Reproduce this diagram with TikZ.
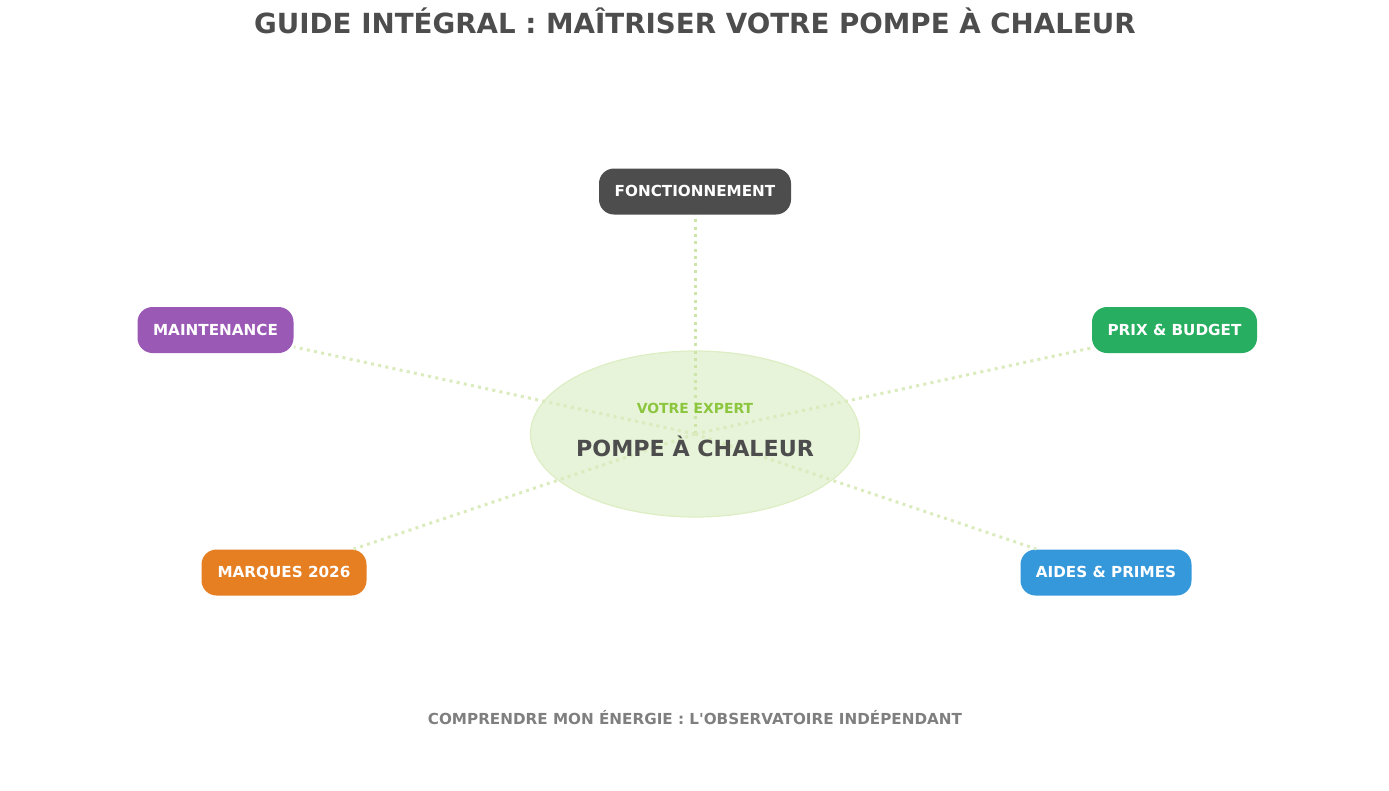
\documentclass[tikz,border=0pt]{standalone}
\usepackage{fontspec}
\setmainfont{DejaVu Sans}
\newfontfamily\rawfont{DejaVu Sans}
\definecolor{inkgray}{HTML}{4D4D4D}
\definecolor{leaf}{HTML}{8CC63F}
\definecolor{footgray}{HTML}{7F7F7F}
\definecolor{cgray}{HTML}{4D4D4D}
\definecolor{cpurple}{HTML}{9B59B6}
\definecolor{cgreen}{HTML}{27AE60}
\definecolor{corange}{HTML}{E67E22}
\definecolor{cblue}{HTML}{3498DB}
\definecolor{spokeA}{HTML}{CDE5A8}
\definecolor{spokeB}{HTML}{DAEBBD}
\usetikzlibrary{shapes.geometric}
\tikzset{
  x=1pt,y=-1pt,
  topic/.style={draw=none,fill=#1,rounded corners=15pt,minimum height=46pt,inner sep=0pt,outer sep=0.5pt,text=white,
    font=\bfseries\fontsize{15.2}{15.2}\selectfont,text height=11.1pt,text depth=1pt,anchor=center},
  spoke/.style={line width=3pt,dash pattern=on 3pt off 4.3pt},
  hub/.style={ellipse,fill=leaf!20,draw=leaf!30,line width=1.2pt,minimum width=329pt,minimum height=166pt,inner sep=0pt,outer sep=0pt},
  title/.style={text=inkgray,font=\bfseries\fontsize{27.7}{28}\selectfont,inner sep=0pt},
}
\begin{document}
\begin{tikzpicture}
\useasboundingbox (0,0) rectangle (1389,790);
\node[hub] (c) at (695,434) {};
\node[topic=cgray,minimum width=192pt] (a) at (695,191.5) {FONCTIONNEMENT};
\node[topic=cpurple,minimum width=156pt] (b) at (215.5,330) {MAINTENANCE};
\node[topic=cgreen,minimum width=165pt] (d) at (1174.5,330) {PRIX \& BUDGET};
\node[topic=corange,minimum width=165pt] (e) at (284,572.5) {MARQUES 2026};
\node[topic=cblue,minimum width=171pt] (f) at (1106,572.5) {AIDES \& PRIMES};
\draw[spoke,spokeA] (c.center) -- (a);
\draw[spoke,spokeB] (c.center) -- (b);
\draw[spoke,spokeB] (c.center) -- (d);
\draw[spoke,spokeB] (c.center) -- (e);
\draw[spoke,spokeB] (c.center) -- (f);
\node[inner sep=0pt,text=leaf,font=\bfseries\fontsize{13.9}{14}\selectfont] (v) at (695,408.5) {VOTRE EXPERT};
\node[inner sep=0pt,text=inkgray,font=\bfseries\fontsize{22.2}{22}\selectfont] (p) at (695,446.5) {POMPE À CHALEUR};
\node[title] (t) at (695,20.5) {GUIDE INTÉGRAL : MAÎTRISER VOTRE POMPE À CHALEUR};
\node[inner sep=0pt,text=footgray,font=\rawfont\bfseries\fontsize{15.2}{15}\selectfont] (g) at (695,718) {COMPRENDRE MON ÉNERGIE : L'OBSERVATOIRE INDÉPENDANT};
\end{tikzpicture}
\end{document}
